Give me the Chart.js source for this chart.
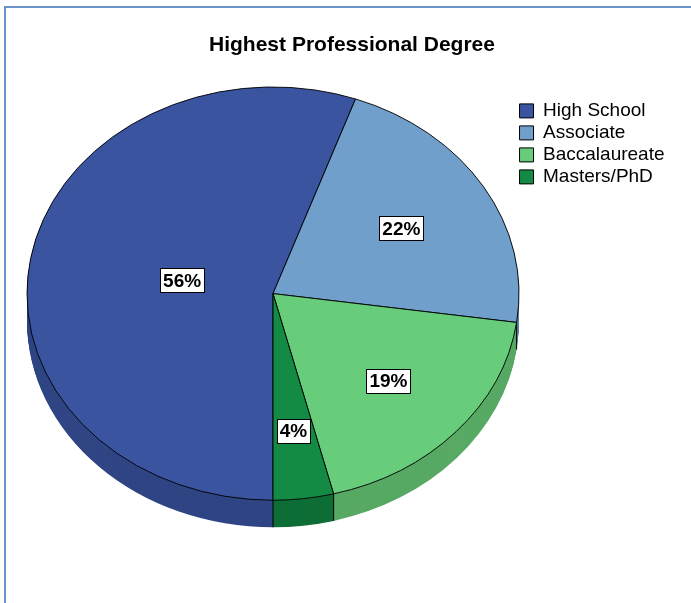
<!DOCTYPE html>
<html>
<head>
<meta charset="utf-8">
<script src="https://cdn.jsdelivr.net/npm/chart.js@4.4.1/dist/chart.umd.min.js"></script>
<style>
  html, body { margin: 0; padding: 0; background: #fff; overflow: hidden; }
  #frame { position: absolute; left: 4px; top: 6px; width: 800px; height: 700px;
           border-left: 2px solid #6a94c9; border-top: 2px solid #6a94c9; }
  #chart { position: absolute; left: 0; top: 0; }
</style>
</head>
<body>
<div id="frame"></div>
<canvas id="chart" width="691" height="603"></canvas>
<script>
// ===== DATA =====
const degreeLabels = ['High School', 'Associate', 'Baccalaureate', 'Masters/PhD'];
const degreePercents = [56, 22, 19, 4];

// ===== LOOK =====
const faceColors = ['#3a54a0', '#6f9fca', '#67cd7b', '#138b45'];
const edgeColors = ['#2f4584', '#5a82a8', '#57a964', '#0e6e36'];
const TILT = 0.84;     // vertical squash of the pie face
const DEPTH = 27;      // thickness of the pie edge, px
const labelRadius = [0.375, 0.61, 0.63, 0.67];
const FONT = '"Liberation Sans", Arial, sans-serif';

function tilt(ctx, cy) {
  ctx.translate(0, cy);
  ctx.scale(1, TILT);
  ctx.translate(0, -cy);
}

// 3D edge under the pie + value boxes on top
const tiltPlugin = {
  id: 'tilt3d',
  beforeDatasetsDraw(chart) {
    const ctx = chart.ctx;
    const arcs = chart.getDatasetMeta(0).data;
    const cy = arcs[0].y;

    // stack darker copies downward to build the edge
    for (let d = DEPTH; d >= 1; d--) {
      ctx.save();
      ctx.translate(0, d);
      tilt(ctx, cy);
      arcs.forEach((a, i) => {
        ctx.beginPath();
        ctx.moveTo(a.x, a.y);
        ctx.arc(a.x, a.y, a.outerRadius, a.startAngle, a.endAngle);
        ctx.closePath();
        ctx.fillStyle = edgeColors[i];
        ctx.fill();
      });
      ctx.restore();
    }

    // seams where slices meet on the front edge
    ctx.save();
    ctx.strokeStyle = '#000';
    ctx.lineWidth = 1;
    arcs.forEach(a => {
      const s = Math.sin(a.startAngle);
      if (s <= 0.001) return;
      const x = a.x + a.outerRadius * Math.cos(a.startAngle);
      const y = a.y + TILT * a.outerRadius * s;
      ctx.beginPath();
      ctx.moveTo(x, y);
      ctx.lineTo(x, y + DEPTH);
      ctx.stroke();
    });
    ctx.restore();

    // face gets drawn by the pie controller inside this transform
    ctx.save();
    tilt(ctx, cy);
  },
  afterDatasetsDraw(chart) {
    const ctx = chart.ctx;
    ctx.restore();

    const arcs = chart.getDatasetMeta(0).data;
    ctx.save();
    ctx.font = 'bold 19px ' + FONT;
    ctx.textAlign = 'center';
    ctx.textBaseline = 'middle';
    arcs.forEach((a, i) => {
      const mid = (a.startAngle + a.endAngle) / 2;
      const r = a.outerRadius * labelRadius[i];
      const x = a.x + r * Math.cos(mid);
      const y = a.y + TILT * r * Math.sin(mid);
      const text = degreePercents[i] + '%';
      const w = Math.round(ctx.measureText(text).width + 6);
      const h = 24;
      const bx = Math.round(x - w / 2) + 0.5;
      const by = Math.round(y - h / 2) + 0.5;
      ctx.fillStyle = '#fff';
      ctx.fillRect(bx, by, w, h);
      ctx.strokeStyle = '#000';
      ctx.lineWidth = 1;
      ctx.strokeRect(bx, by, w, h);
      ctx.fillStyle = '#000';
      ctx.fillText(text, x, y + 1);
    });
    ctx.restore();
  }
};

Chart.defaults.color = '#000';
Chart.defaults.font.family = FONT;

new Chart(document.getElementById('chart'), {
  type: 'pie',
  data: {
    labels: degreeLabels,
    datasets: [{
      data: degreePercents,
      backgroundColor: faceColors,
      borderColor: '#000',
      borderWidth: 1
    }]
  },
  options: {
    responsive: false,
    animation: false,
    events: [],
    rotation: 180,
    radius: 246,
    layout: { padding: { left: 29.5, right: 16.5, top: 25, bottom: 84 } },
    plugins: {
      title: {
        display: true,
        text: 'Highest Professional Degree',
        font: { size: 21, weight: 'bold' },
        padding: { top: 8, bottom: 10 }
      },
      legend: {
        position: 'right',
        align: 'start',
        // empty title used as a spacer above the entries
        title: { display: true, text: '', padding: { top: 59, bottom: 0 } },
        labels: {
          font: { size: 19 },
          boxWidth: 14,
          boxHeight: 14,
          padding: 3
        }
      },
      tooltip: { enabled: false }
    }
  },
  plugins: [tiltPlugin]
});
</script>
</body>
</html>
